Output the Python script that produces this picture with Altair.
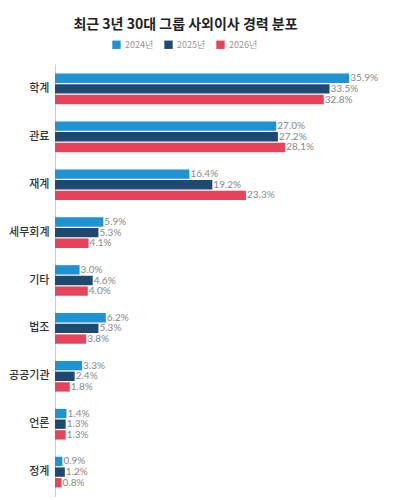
import altair as alt
import pandas as pd

categories = ["학계", "관료", "재계", "세무회계", "기타", "법조", "공공기관", "언론", "정계"]
years = ["2024년", "2025년", "2026년"]
v2024 = [35.9, 27.0, 16.4, 5.9, 3.0, 6.2, 3.3, 1.4, 0.9]
v2025 = [33.5, 27.2, 19.2, 5.3, 4.6, 5.3, 2.4, 1.3, 1.2]
v2026 = [32.8, 28.1, 23.3, 4.1, 4.0, 3.8, 1.8, 1.3, 0.8]
colors = ["#1e92d3", "#1f4a70", "#e5445b"]

rows = []
for yr, vals in zip(years, [v2024, v2025, v2026]):
    for c, v in zip(categories, vals):
        rows.append({"category": c, "year": yr, "value": v, "label": f"{v:.1f}%"})
df = pd.DataFrame(rows)

KR = "Noto Sans CJK KR"

base = alt.Chart(df).encode(
    y=alt.Y("category:N", sort=categories,
            scale=alt.Scale(paddingInner=0.36, paddingOuter=0.2),
            axis=alt.Axis(title=None, ticks=False, domainColor="#cccccc", labelFont=KR,
                          labelFontSize=11, labelColor="#333333", labelPadding=6,
                          labelFontWeight=500)),
    yOffset=alt.YOffset("year:N", sort=years, scale=alt.Scale(paddingInner=0.12)),
    x=alt.X("value:Q", scale=alt.Scale(domain=[0, 36], nice=False),
            axis=alt.Axis(title=None, labels=False, ticks=False, grid=False,
                          domainColor="#cccccc")),
)

bars = base.mark_bar().encode(
    color=alt.Color("year:N", sort=years, scale=alt.Scale(domain=years, range=colors),
                    legend=alt.Legend(title=None, orient="none", direction="horizontal",
                                      legendX=57, legendY=-24, symbolType="square",
                                      symbolSize=70, symbolStrokeWidth=0, labelFont=KR,
                                      labelFontSize=9, labelColor="#999999",
                                      columnPadding=10, symbolOpacity=1))
)

labels = base.mark_text(align="left", baseline="middle", dx=1, font="Lato",
                        fontSize=10, color="#888888").encode(text="label:N")

chart = (bars + labels).properties(
    width=295, height=433,
    title=alt.TitleParams("최근 3년 30대 그룹 사외이사 경력 분포", font=KR, fontSize=14,
                          fontWeight="bold", color="#222222", anchor="middle",
                          frame="group", dx=-17, offset=8),
    autosize=alt.AutoSizeParams(type="none"),
    padding={"left": 47, "top": 56, "right": 39, "bottom": 0},
).configure_view(stroke=None)

chart.save("out.html", embed_options={"renderer": "svg", "actions": False})
